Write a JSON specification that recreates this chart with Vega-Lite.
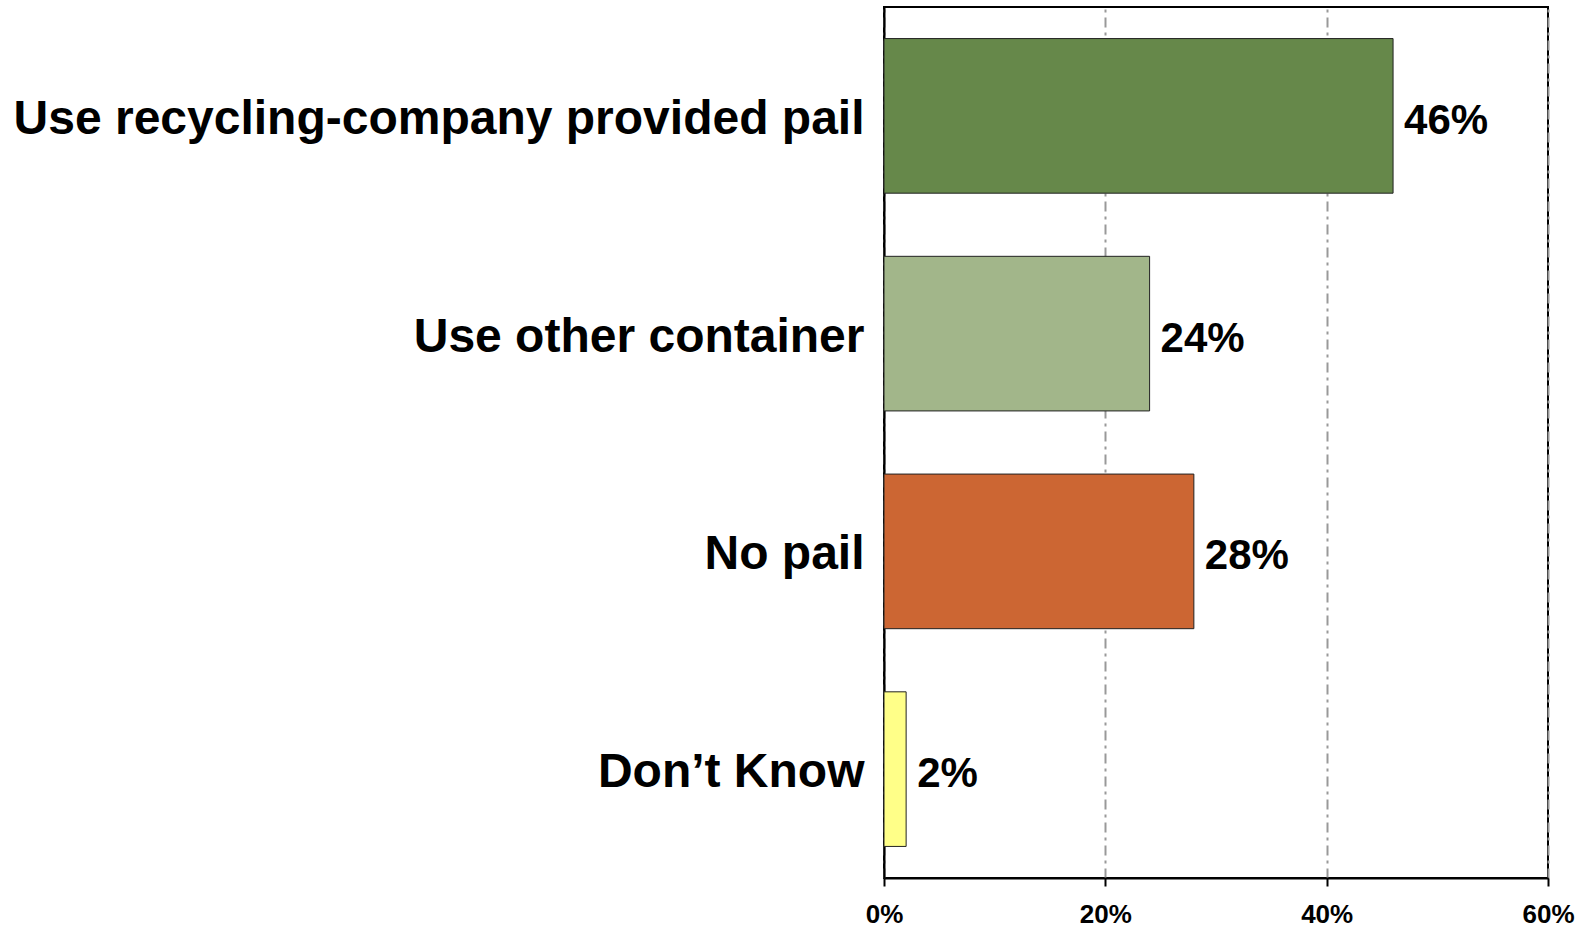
{
  "$schema": "https://vega.github.io/schema/vega-lite/v6.json",
  "autosize": "none",
  "width": 664,
  "height": 871,
  "padding": {"left": 884, "top": 7, "right": 33, "bottom": 49},
  "background": "white",
  "config": {
    "view": {"stroke": "black", "strokeWidth": 2},
    "font": "Liberation Sans"
  },
  "data": {
    "values": [
      {"category": "Use recycling-company provided pail", "share": 0.46, "color": "#66884A"},
      {"category": "Use other container", "share": 0.24, "color": "#A2B68A"},
      {"category": "No pail", "share": 0.28, "color": "#CC6633"},
      {"category": "Don’t Know", "share": 0.02, "color": "#FFFF88"}
    ]
  },
  "encoding": {
    "y": {
      "field": "category",
      "type": "nominal",
      "sort": null,
      "scale": {"paddingInner": 0.29, "paddingOuter": 0.145},
      "axis": {
        "title": null,
        "ticks": false,
        "domain": true,
        "domainColor": "black",
        "domainWidth": 2,
        "labelFont": "Liberation Sans",
        "labelFontWeight": "bold",
        "labelFontSize": 48,
        "labelColor": "black",
        "labelPadding": 20,
        "labelOffset": 4,
        "labelLimit": 900
      }
    },
    "x": {
      "field": "share",
      "type": "quantitative",
      "scale": {"domain": [0, 0.6], "nice": false},
      "axis": {
        "title": null,
        "values": [0, 0.2, 0.4, 0.6],
        "format": ".0%",
        "labelFlush": false,
        "labelOverlap": false,
        "labelBound": false,
        "domainColor": "black",
        "domainWidth": 2,
        "tickColor": "black",
        "tickWidth": 2,
        "tickSize": 8,
        "labelFont": "Liberation Sans",
        "labelFontWeight": "bold",
        "labelFontSize": 26,
        "labelColor": "black",
        "labelPadding": 15,
        "grid": true,
        "gridColor": "#999999",
        "gridWidth": 2,
        "gridDash": [10, 5, 3, 5]
      }
    }
  },
  "layer": [
    {
      "mark": {"type": "bar", "stroke": "#222222", "strokeWidth": 1},
      "encoding": {
        "color": {"field": "color", "type": "nominal", "scale": null, "legend": null}
      }
    },
    {
      "mark": {
        "type": "text",
        "align": "left",
        "baseline": "middle",
        "dx": 11,
        "dy": 5,
        "font": "Liberation Sans",
        "fontWeight": "bold",
        "fontSize": 42,
        "color": "black"
      },
      "encoding": {
        "text": {"field": "share", "type": "quantitative", "format": ".0%"}
      }
    }
  ]
}
